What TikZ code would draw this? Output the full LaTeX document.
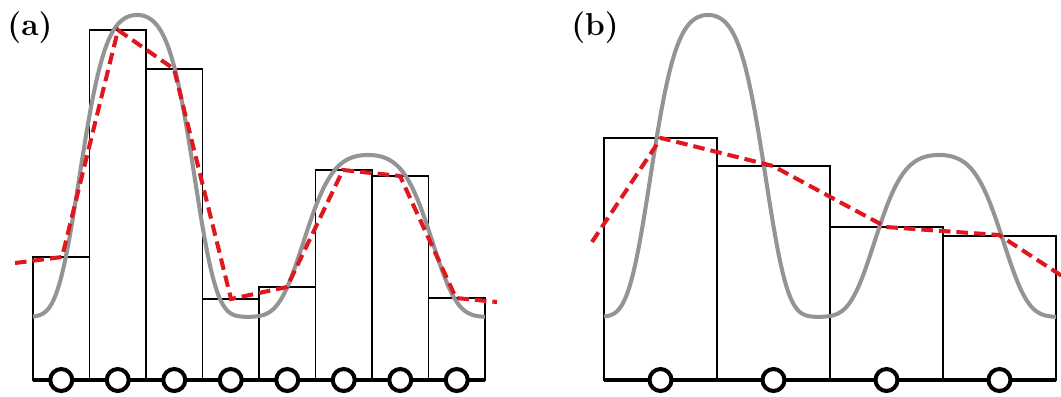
\documentclass[tikz,border=0pt]{standalone}
\definecolor{myred}{RGB}{222,24,30}
\definecolor{mygray}{RGB}{148,148,148}
\begin{document}
\begin{tikzpicture}[x=0.02cm,y=-0.02cm,
  declare function={bump(\d,\a,\b)=exp(-min(20,(\d/\a)^2+(\d/\b)^4));
                    prof(\u)=317-302*bump(\u-104,122,67)-162*bump(\u-335,137,75);},
  barbox/.style={draw=black,line width=0.85pt},
  truecurve/.style={draw=mygray,line width=2.3pt},
  approx/.style={draw=myred,line width=2.3pt,dash pattern=on 6.6pt off 3.4pt},
  axisline/.style={draw=black,line width=2.6pt},
  sample/.style={circle,draw=black,fill=white,line width=2.3pt,minimum size=0.44cm,inner sep=0pt},
  paneltag/.style={font=\fontsize{18}{21}\selectfont\bfseries,inner sep=0pt}]
\useasboundingbox (0,0) rectangle (1061,396);
% ---------- panel (a) ----------
\foreach \l/\r/\t in {33/89.5/257, 89.5/146/30, 146/202.5/69, 202.5/259/299,
                      259/315.5/287, 315.5/372/170, 372/428.5/176, 428.5/485/298}
  \draw[barbox] (\l,380) rectangle (\r,\t);
\draw[truecurve] plot[domain=0:452,samples=241,smooth] ({33+\x},{prof(\x)});
\draw[approx] (15,263) -- (62,257) -- (118,30) -- (174,69) -- (231,299) -- (287,287)
  -- (343,170) -- (400,176) -- (456,298) -- (497,302);
\coordinate (aL) at (33,380);
\coordinate (aR) at (485,380);
\draw[axisline] (aL) -- (aR);
\foreach \c [count=\i] in {61.25,117.75,174.25,230.75,287.25,343.75,400.25,456.75}
  \node[sample] (a\i) at (\c,380) {};
\node[paneltag] (tagA) at (30,28) {(a)};
% ---------- panel (b) ----------
\foreach \l/\r/\t in {604/717/138, 717/830/166, 830/943/227, 943/1056/236}
  \draw[barbox] (\l,380) rectangle (\r,\t);
\draw[truecurve] plot[domain=0:452,samples=241,smooth] ({604+\x},{prof(\x)});
\draw[approx] (592,242) -- (661,138) -- (773,166) -- (886,227) -- (999,235) -- (1062,276);
\coordinate (bL) at (604,380);
\coordinate (bR) at (1056,380);
\draw[axisline] (bL) -- (bR);
\foreach \c [count=\i] in {660.5,773.5,886.5,999.5}
  \node[sample] (b\i) at (\c,380) {};
\node[paneltag] (tagB) at (595,28) {(b)};
\end{tikzpicture}
\end{document}
